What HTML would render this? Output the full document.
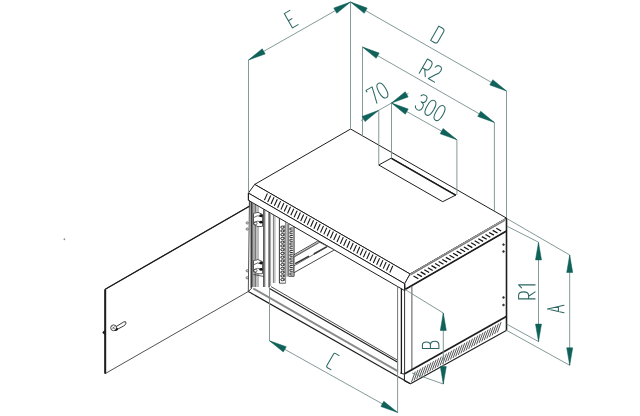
<!DOCTYPE html>
<html><head><meta charset="utf-8"><style>
html,body{margin:0;padding:0;background:#fff;}
svg{display:block;}
</style></head><body>
<svg width="640" height="416" viewBox="0 0 640 416">
<rect width="640" height="416" fill="#fff"/>
<polygon points="249.40,206.20 105.20,289.30 105.20,373.60 248.30,291.50" fill="#fff" stroke="#333" stroke-width="0.85" />
<line x1="249.40" y1="206.20" x2="105.20" y2="289.30" stroke="#1a1a1a" stroke-width="1.3" />
<line x1="105.20" y1="289.30" x2="105.20" y2="373.60" stroke="#1e1e1e" stroke-width="2.0" />
<path d="M115.2,327.2 L123.6,322.0 Q126.2,320.8 126.0,323.2 Q125.6,325.0 123.4,326.1 L116.8,329.6" fill="#fff" stroke="#222" stroke-width="0.9"/>
<circle cx="113.60" cy="327.80" r="2.9" fill="#fff" stroke="#333" stroke-width="0.9"/>
<path d="M112.3,326.6 L114.9,329.2 M114.7,326.4 L112.6,329.0" stroke="#444" stroke-width="0.7"/>
<path d="M114.0,330.6 Q116.6,330.2 116.4,327.6 L118.0,328.6 Q118.2,331.0 115.2,331.0 Z" fill="#111"/>
<polygon points="102.3,332.5 104.6,329.9 104.6,335.1" fill="#111"/>
<circle cx="64.40" cy="239.20" r="0.7" fill="#888" stroke="#888" stroke-width="0.4"/>
<circle cx="247.20" cy="222.90" r="1.1" fill="none" stroke="#444" stroke-width="0.7"/>
<circle cx="247.20" cy="229.10" r="1.1" fill="none" stroke="#444" stroke-width="0.7"/>
<circle cx="247.20" cy="270.80" r="1.1" fill="none" stroke="#444" stroke-width="0.7"/>
<circle cx="247.20" cy="277.80" r="1.1" fill="none" stroke="#444" stroke-width="0.7"/>
<polygon points="350.60,129.00 254.70,184.40 410.10,274.00 506.50,218.10" fill="#fff" stroke="#1e1e1e" stroke-width="1.0" />
<polygon points="378.75,165.00 391.40,158.10 455.90,195.00 442.70,201.70" fill="#fff" stroke="#1e1e1e" stroke-width="1.0" />
<line x1="391.40" y1="158.40" x2="455.90" y2="195.30" stroke="#1a1a1a" stroke-width="1.45" />
<polygon points="254.70,184.40 248.40,193.10 404.65,283.70 410.10,274.00" fill="#fff" stroke="#1e1e1e" stroke-width="1.0" />
<line x1="264.40" y1="200.13" x2="267.40" y2="193.53" stroke="#151515" stroke-width="1.1" />
<line x1="267.70" y1="202.03" x2="270.70" y2="195.43" stroke="#151515" stroke-width="1.1" />
<line x1="271.00" y1="203.93" x2="274.00" y2="197.33" stroke="#151515" stroke-width="1.1" />
<line x1="274.30" y1="205.83" x2="277.30" y2="199.23" stroke="#151515" stroke-width="1.1" />
<line x1="277.60" y1="207.74" x2="280.60" y2="201.14" stroke="#151515" stroke-width="1.1" />
<line x1="280.90" y1="209.64" x2="283.90" y2="203.04" stroke="#151515" stroke-width="1.1" />
<line x1="284.20" y1="211.54" x2="287.20" y2="204.94" stroke="#151515" stroke-width="1.1" />
<line x1="287.50" y1="213.45" x2="290.50" y2="206.85" stroke="#151515" stroke-width="1.1" />
<line x1="290.80" y1="215.35" x2="293.80" y2="208.75" stroke="#151515" stroke-width="1.1" />
<line x1="294.10" y1="217.25" x2="297.10" y2="210.65" stroke="#151515" stroke-width="1.1" />
<line x1="297.40" y1="219.15" x2="300.40" y2="212.55" stroke="#151515" stroke-width="1.1" />
<line x1="300.70" y1="221.06" x2="303.70" y2="214.46" stroke="#151515" stroke-width="1.1" />
<line x1="304.00" y1="222.96" x2="307.00" y2="216.36" stroke="#151515" stroke-width="1.1" />
<line x1="307.30" y1="224.86" x2="310.30" y2="218.26" stroke="#151515" stroke-width="1.1" />
<line x1="310.60" y1="226.76" x2="313.60" y2="220.16" stroke="#151515" stroke-width="1.1" />
<line x1="313.90" y1="228.67" x2="316.90" y2="222.07" stroke="#151515" stroke-width="1.1" />
<line x1="317.20" y1="230.57" x2="320.20" y2="223.97" stroke="#151515" stroke-width="1.1" />
<line x1="320.50" y1="232.47" x2="323.50" y2="225.87" stroke="#151515" stroke-width="1.1" />
<line x1="323.80" y1="234.38" x2="326.80" y2="227.78" stroke="#151515" stroke-width="1.1" />
<line x1="327.10" y1="236.28" x2="330.10" y2="229.68" stroke="#151515" stroke-width="1.1" />
<line x1="330.40" y1="238.18" x2="333.40" y2="231.58" stroke="#151515" stroke-width="1.1" />
<line x1="333.70" y1="240.08" x2="336.70" y2="233.48" stroke="#151515" stroke-width="1.1" />
<line x1="337.00" y1="241.99" x2="340.00" y2="235.39" stroke="#151515" stroke-width="1.1" />
<line x1="340.30" y1="243.89" x2="343.30" y2="237.29" stroke="#151515" stroke-width="1.1" />
<line x1="343.60" y1="245.79" x2="346.60" y2="239.19" stroke="#151515" stroke-width="1.1" />
<line x1="346.90" y1="247.70" x2="349.90" y2="241.10" stroke="#151515" stroke-width="1.1" />
<line x1="350.20" y1="249.60" x2="353.20" y2="243.00" stroke="#151515" stroke-width="1.1" />
<line x1="353.50" y1="251.50" x2="356.50" y2="244.90" stroke="#151515" stroke-width="1.1" />
<line x1="356.80" y1="253.40" x2="359.80" y2="246.80" stroke="#151515" stroke-width="1.1" />
<line x1="360.10" y1="255.31" x2="363.10" y2="248.71" stroke="#151515" stroke-width="1.1" />
<line x1="363.40" y1="257.21" x2="366.40" y2="250.61" stroke="#151515" stroke-width="1.1" />
<line x1="366.70" y1="259.11" x2="369.70" y2="252.51" stroke="#151515" stroke-width="1.1" />
<line x1="370.00" y1="261.01" x2="373.00" y2="254.41" stroke="#151515" stroke-width="1.1" />
<line x1="373.30" y1="262.92" x2="376.30" y2="256.32" stroke="#151515" stroke-width="1.1" />
<line x1="376.60" y1="264.82" x2="379.60" y2="258.22" stroke="#151515" stroke-width="1.1" />
<line x1="379.90" y1="266.72" x2="382.90" y2="260.12" stroke="#151515" stroke-width="1.1" />
<line x1="383.20" y1="268.63" x2="386.20" y2="262.03" stroke="#151515" stroke-width="1.1" />
<line x1="386.50" y1="270.53" x2="389.50" y2="263.93" stroke="#151515" stroke-width="1.1" />
<line x1="389.80" y1="272.43" x2="392.80" y2="265.83" stroke="#151515" stroke-width="1.1" />
<polygon points="410.10,274.00 404.65,283.70 405.00,289.50 506.50,231.00 506.50,218.10" fill="#fff" stroke="#1e1e1e" stroke-width="0.9" />
<line x1="405.00" y1="289.50" x2="506.50" y2="231.00" stroke="#1e1e1e" stroke-width="1.6" />
<line x1="410.10" y1="274.70" x2="505.00" y2="219.60" stroke="#a8a8a8" stroke-width="1.8" />
<line x1="411.00" y1="275.28" x2="412.00" y2="273.38" stroke="#555" stroke-width="0.55" />
<line x1="412.25" y1="274.56" x2="413.25" y2="272.66" stroke="#555" stroke-width="0.55" />
<line x1="413.50" y1="273.84" x2="414.50" y2="271.94" stroke="#555" stroke-width="0.55" />
<line x1="414.75" y1="273.12" x2="415.75" y2="271.22" stroke="#555" stroke-width="0.55" />
<line x1="416.00" y1="272.40" x2="417.00" y2="270.50" stroke="#555" stroke-width="0.55" />
<line x1="417.25" y1="271.68" x2="418.25" y2="269.78" stroke="#555" stroke-width="0.55" />
<line x1="418.50" y1="270.96" x2="419.50" y2="269.06" stroke="#555" stroke-width="0.55" />
<line x1="419.75" y1="270.24" x2="420.75" y2="268.34" stroke="#555" stroke-width="0.55" />
<line x1="421.00" y1="269.52" x2="422.00" y2="267.62" stroke="#555" stroke-width="0.55" />
<line x1="422.25" y1="268.79" x2="423.25" y2="266.89" stroke="#555" stroke-width="0.55" />
<line x1="423.50" y1="268.07" x2="424.50" y2="266.17" stroke="#555" stroke-width="0.55" />
<line x1="424.75" y1="267.35" x2="425.75" y2="265.45" stroke="#555" stroke-width="0.55" />
<line x1="426.00" y1="266.63" x2="427.00" y2="264.73" stroke="#555" stroke-width="0.55" />
<line x1="427.25" y1="265.91" x2="428.25" y2="264.01" stroke="#555" stroke-width="0.55" />
<line x1="428.50" y1="265.19" x2="429.50" y2="263.29" stroke="#555" stroke-width="0.55" />
<line x1="429.75" y1="264.47" x2="430.75" y2="262.57" stroke="#555" stroke-width="0.55" />
<line x1="431.00" y1="263.75" x2="432.00" y2="261.85" stroke="#555" stroke-width="0.55" />
<line x1="432.25" y1="263.03" x2="433.25" y2="261.13" stroke="#555" stroke-width="0.55" />
<line x1="433.50" y1="262.31" x2="434.50" y2="260.41" stroke="#555" stroke-width="0.55" />
<line x1="434.75" y1="261.59" x2="435.75" y2="259.69" stroke="#555" stroke-width="0.55" />
<line x1="436.00" y1="260.87" x2="437.00" y2="258.97" stroke="#555" stroke-width="0.55" />
<line x1="437.25" y1="260.15" x2="438.25" y2="258.25" stroke="#555" stroke-width="0.55" />
<line x1="438.50" y1="259.42" x2="439.50" y2="257.52" stroke="#555" stroke-width="0.55" />
<line x1="439.75" y1="258.70" x2="440.75" y2="256.80" stroke="#555" stroke-width="0.55" />
<line x1="441.00" y1="257.98" x2="442.00" y2="256.08" stroke="#555" stroke-width="0.55" />
<line x1="442.25" y1="257.26" x2="443.25" y2="255.36" stroke="#555" stroke-width="0.55" />
<line x1="443.50" y1="256.54" x2="444.50" y2="254.64" stroke="#555" stroke-width="0.55" />
<line x1="444.75" y1="255.82" x2="445.75" y2="253.92" stroke="#555" stroke-width="0.55" />
<line x1="446.00" y1="255.10" x2="447.00" y2="253.20" stroke="#555" stroke-width="0.55" />
<line x1="447.25" y1="254.38" x2="448.25" y2="252.48" stroke="#555" stroke-width="0.55" />
<line x1="448.50" y1="253.66" x2="449.50" y2="251.76" stroke="#555" stroke-width="0.55" />
<line x1="449.75" y1="252.94" x2="450.75" y2="251.04" stroke="#555" stroke-width="0.55" />
<line x1="451.00" y1="252.22" x2="452.00" y2="250.32" stroke="#555" stroke-width="0.55" />
<line x1="452.25" y1="251.50" x2="453.25" y2="249.60" stroke="#555" stroke-width="0.55" />
<line x1="453.50" y1="250.78" x2="454.50" y2="248.88" stroke="#555" stroke-width="0.55" />
<line x1="454.75" y1="250.05" x2="455.75" y2="248.15" stroke="#555" stroke-width="0.55" />
<line x1="456.00" y1="249.33" x2="457.00" y2="247.43" stroke="#555" stroke-width="0.55" />
<line x1="457.25" y1="248.61" x2="458.25" y2="246.71" stroke="#555" stroke-width="0.55" />
<line x1="458.50" y1="247.89" x2="459.50" y2="245.99" stroke="#555" stroke-width="0.55" />
<line x1="459.75" y1="247.17" x2="460.75" y2="245.27" stroke="#555" stroke-width="0.55" />
<line x1="461.00" y1="246.45" x2="462.00" y2="244.55" stroke="#555" stroke-width="0.55" />
<line x1="462.25" y1="245.73" x2="463.25" y2="243.83" stroke="#555" stroke-width="0.55" />
<line x1="463.50" y1="245.01" x2="464.50" y2="243.11" stroke="#555" stroke-width="0.55" />
<line x1="464.75" y1="244.29" x2="465.75" y2="242.39" stroke="#555" stroke-width="0.55" />
<line x1="466.00" y1="243.57" x2="467.00" y2="241.67" stroke="#555" stroke-width="0.55" />
<line x1="467.25" y1="242.85" x2="468.25" y2="240.95" stroke="#555" stroke-width="0.55" />
<line x1="468.50" y1="242.13" x2="469.50" y2="240.23" stroke="#555" stroke-width="0.55" />
<line x1="469.75" y1="241.41" x2="470.75" y2="239.51" stroke="#555" stroke-width="0.55" />
<line x1="471.00" y1="240.69" x2="472.00" y2="238.79" stroke="#555" stroke-width="0.55" />
<line x1="472.25" y1="239.96" x2="473.25" y2="238.06" stroke="#555" stroke-width="0.55" />
<line x1="473.50" y1="239.24" x2="474.50" y2="237.34" stroke="#555" stroke-width="0.55" />
<line x1="474.75" y1="238.52" x2="475.75" y2="236.62" stroke="#555" stroke-width="0.55" />
<line x1="476.00" y1="237.80" x2="477.00" y2="235.90" stroke="#555" stroke-width="0.55" />
<line x1="477.25" y1="237.08" x2="478.25" y2="235.18" stroke="#555" stroke-width="0.55" />
<line x1="478.50" y1="236.36" x2="479.50" y2="234.46" stroke="#555" stroke-width="0.55" />
<line x1="479.75" y1="235.64" x2="480.75" y2="233.74" stroke="#555" stroke-width="0.55" />
<line x1="481.00" y1="234.92" x2="482.00" y2="233.02" stroke="#555" stroke-width="0.55" />
<line x1="482.25" y1="234.20" x2="483.25" y2="232.30" stroke="#555" stroke-width="0.55" />
<line x1="483.50" y1="233.48" x2="484.50" y2="231.58" stroke="#555" stroke-width="0.55" />
<line x1="484.75" y1="232.76" x2="485.75" y2="230.86" stroke="#555" stroke-width="0.55" />
<line x1="486.00" y1="232.04" x2="487.00" y2="230.14" stroke="#555" stroke-width="0.55" />
<line x1="487.25" y1="231.32" x2="488.25" y2="229.42" stroke="#555" stroke-width="0.55" />
<line x1="488.50" y1="230.59" x2="489.50" y2="228.69" stroke="#555" stroke-width="0.55" />
<line x1="489.75" y1="229.87" x2="490.75" y2="227.97" stroke="#555" stroke-width="0.55" />
<line x1="491.00" y1="229.15" x2="492.00" y2="227.25" stroke="#555" stroke-width="0.55" />
<line x1="492.25" y1="228.43" x2="493.25" y2="226.53" stroke="#555" stroke-width="0.55" />
<line x1="493.50" y1="227.71" x2="494.50" y2="225.81" stroke="#555" stroke-width="0.55" />
<line x1="494.75" y1="226.99" x2="495.75" y2="225.09" stroke="#555" stroke-width="0.55" />
<line x1="496.00" y1="226.27" x2="497.00" y2="224.37" stroke="#555" stroke-width="0.55" />
<line x1="497.25" y1="225.55" x2="498.25" y2="223.65" stroke="#555" stroke-width="0.55" />
<line x1="498.50" y1="224.83" x2="499.50" y2="222.93" stroke="#555" stroke-width="0.55" />
<line x1="499.75" y1="224.11" x2="500.75" y2="222.21" stroke="#555" stroke-width="0.55" />
<line x1="501.00" y1="223.39" x2="502.00" y2="221.49" stroke="#555" stroke-width="0.55" />
<line x1="502.25" y1="222.67" x2="503.25" y2="220.77" stroke="#555" stroke-width="0.55" />
<line x1="503.50" y1="221.95" x2="504.50" y2="220.05" stroke="#555" stroke-width="0.55" />
<line x1="413.50" y1="276.04" x2="418.30" y2="278.74" stroke="#111" stroke-width="1.25" />
<line x1="417.10" y1="273.96" x2="421.90" y2="276.66" stroke="#111" stroke-width="1.25" />
<line x1="420.70" y1="271.89" x2="425.50" y2="274.59" stroke="#111" stroke-width="1.25" />
<line x1="424.30" y1="269.81" x2="429.10" y2="272.51" stroke="#111" stroke-width="1.25" />
<line x1="427.90" y1="267.74" x2="432.70" y2="270.44" stroke="#111" stroke-width="1.25" />
<line x1="431.50" y1="265.66" x2="436.30" y2="268.36" stroke="#111" stroke-width="1.25" />
<line x1="435.10" y1="263.58" x2="439.90" y2="266.28" stroke="#111" stroke-width="1.25" />
<line x1="438.70" y1="261.51" x2="443.50" y2="264.21" stroke="#111" stroke-width="1.25" />
<line x1="442.30" y1="259.43" x2="447.10" y2="262.13" stroke="#111" stroke-width="1.25" />
<line x1="445.90" y1="257.36" x2="450.70" y2="260.06" stroke="#111" stroke-width="1.25" />
<line x1="449.50" y1="255.28" x2="454.30" y2="257.98" stroke="#111" stroke-width="1.25" />
<line x1="453.10" y1="253.21" x2="457.90" y2="255.91" stroke="#111" stroke-width="1.25" />
<line x1="456.70" y1="251.13" x2="461.50" y2="253.83" stroke="#111" stroke-width="1.25" />
<line x1="460.30" y1="249.05" x2="465.10" y2="251.75" stroke="#111" stroke-width="1.25" />
<line x1="463.90" y1="246.98" x2="468.70" y2="249.68" stroke="#111" stroke-width="1.25" />
<line x1="467.50" y1="244.90" x2="472.30" y2="247.60" stroke="#111" stroke-width="1.25" />
<line x1="471.10" y1="242.83" x2="475.90" y2="245.53" stroke="#111" stroke-width="1.25" />
<line x1="474.70" y1="240.75" x2="479.50" y2="243.45" stroke="#111" stroke-width="1.25" />
<line x1="478.30" y1="238.68" x2="483.10" y2="241.38" stroke="#111" stroke-width="1.25" />
<line x1="481.90" y1="236.60" x2="486.70" y2="239.30" stroke="#111" stroke-width="1.25" />
<line x1="485.50" y1="234.52" x2="490.30" y2="237.22" stroke="#111" stroke-width="1.25" />
<line x1="489.10" y1="232.45" x2="493.90" y2="235.15" stroke="#111" stroke-width="1.25" />
<line x1="492.70" y1="230.37" x2="497.50" y2="233.07" stroke="#111" stroke-width="1.25" />
<line x1="496.30" y1="228.30" x2="501.10" y2="231.00" stroke="#111" stroke-width="1.25" />
<polygon points="248.40,193.10 404.65,283.70 404.65,290.60 248.40,200.30" fill="#fff" stroke="#1e1e1e" stroke-width="1.0" />
<line x1="404.65" y1="283.70" x2="404.65" y2="290.60" stroke="#1e1e1e" stroke-width="1.0" />
<polygon points="251.2,201.91 253.1,203.01 253.1,287 251.2,287" fill="#8a8a8a"/>
<line x1="251.20" y1="201.91" x2="251.20" y2="288.00" stroke="#333" stroke-width="0.8" />
<line x1="253.10" y1="203.01" x2="253.10" y2="287.00" stroke="#444" stroke-width="0.7" />
<line x1="255.10" y1="204.16" x2="255.10" y2="287.00" stroke="#222" stroke-width="1.0" />
<line x1="256.20" y1="204.80" x2="256.20" y2="287.00" stroke="#666" stroke-width="0.6" />
<line x1="258.00" y1="205.84" x2="258.00" y2="287.00" stroke="#555" stroke-width="0.8" />
<line x1="263.90" y1="209.24" x2="263.90" y2="287.00" stroke="#1a1a1a" stroke-width="1.2" />
<line x1="265.00" y1="209.87" x2="265.00" y2="287.00" stroke="#666" stroke-width="0.6" />
<line x1="269.10" y1="212.24" x2="269.10" y2="287.50" stroke="#1a1a1a" stroke-width="1.1" />
<line x1="270.60" y1="213.10" x2="270.60" y2="286.00" stroke="#777" stroke-width="0.7" />
<line x1="273.40" y1="214.72" x2="273.40" y2="283.00" stroke="#555" stroke-width="0.8" />
<line x1="274.90" y1="215.58" x2="274.90" y2="283.00" stroke="#777" stroke-width="0.7" />
<line x1="248.40" y1="193.10" x2="248.40" y2="200.30" stroke="#1e1e1e" stroke-width="1.0" />
<line x1="249.40" y1="200.30" x2="249.40" y2="206.30" stroke="#1e1e1e" stroke-width="0.9" />
<path d="M253.5,213.4 Q258,210.9 262.5,214.4 V226.4 Q258,227.9 253.5,224.4 Z" fill="#fff" stroke="#333" stroke-width="0.8"/>
<path d="M254,217.4 Q257,214.4 262,216.9 M254,222.4 Q257,219.9 262,222.4" fill="none" stroke="#444" stroke-width="0.8"/>
<ellipse cx="261" cy="215.70000000000002" rx="1.7" ry="1.4" fill="#111"/>
<ellipse cx="261" cy="222.20000000000002" rx="1.7" ry="1.4" fill="#111"/>
<ellipse cx="255.5" cy="223.4" rx="1.6" ry="1.3" fill="none" stroke="#333" stroke-width="0.7"/>
<path d="M253.5,260.6 Q258,258.1 262.5,261.6 V273.6 Q258,275.1 253.5,271.6 Z" fill="#fff" stroke="#333" stroke-width="0.8"/>
<path d="M254,264.6 Q257,261.6 262,264.1 M254,269.6 Q257,267.1 262,269.6" fill="none" stroke="#444" stroke-width="0.8"/>
<ellipse cx="261" cy="262.90000000000003" rx="1.7" ry="1.4" fill="#111"/>
<ellipse cx="261" cy="269.40000000000003" rx="1.7" ry="1.4" fill="#111"/>
<ellipse cx="255.5" cy="270.6" rx="1.6" ry="1.3" fill="none" stroke="#333" stroke-width="0.7"/>
<line x1="253.50" y1="274.50" x2="263.90" y2="276.50" stroke="#333" stroke-width="0.8" />
<line x1="279.40" y1="218.17" x2="279.40" y2="283.20" stroke="#222" stroke-width="0.9" />
<line x1="285.60" y1="221.75" x2="285.60" y2="283.20" stroke="#555" stroke-width="0.7" />
<polygon points="286.4,222.21 288.8,223.59 288.8,276.4 286.4,276.4" fill="#a0a0a0"/>
<line x1="288.80" y1="223.59" x2="288.80" y2="276.40" stroke="#444" stroke-width="0.7" />
<line x1="294.00" y1="226.59" x2="294.00" y2="276.40" stroke="#222" stroke-width="1.0" />
<line x1="279.40" y1="283.20" x2="285.60" y2="283.20" stroke="#333" stroke-width="0.8" />
<line x1="288.80" y1="276.40" x2="294.00" y2="276.40" stroke="#333" stroke-width="0.8" />
<ellipse cx="282.4" cy="227.20" rx="1.6" ry="1.15" fill="#fff" stroke="#1a1a1a" stroke-width="0.95"/>
<line x1="284.20" y1="225.20" x2="284.20" y2="228.40" stroke="#222" stroke-width="0.8" />
<ellipse cx="282.4" cy="230.95" rx="1.6" ry="1.15" fill="#fff" stroke="#1a1a1a" stroke-width="0.95"/>
<line x1="284.20" y1="228.95" x2="284.20" y2="232.15" stroke="#222" stroke-width="0.8" />
<ellipse cx="282.4" cy="234.70" rx="1.6" ry="1.15" fill="#fff" stroke="#1a1a1a" stroke-width="0.95"/>
<line x1="284.20" y1="232.70" x2="284.20" y2="235.90" stroke="#222" stroke-width="0.8" />
<ellipse cx="282.4" cy="238.45" rx="1.6" ry="1.15" fill="#fff" stroke="#1a1a1a" stroke-width="0.95"/>
<line x1="284.20" y1="236.45" x2="284.20" y2="239.65" stroke="#222" stroke-width="0.8" />
<ellipse cx="282.4" cy="242.20" rx="1.6" ry="1.15" fill="#fff" stroke="#1a1a1a" stroke-width="0.95"/>
<line x1="284.20" y1="240.20" x2="284.20" y2="243.40" stroke="#222" stroke-width="0.8" />
<ellipse cx="282.4" cy="245.95" rx="1.6" ry="1.15" fill="#fff" stroke="#1a1a1a" stroke-width="0.95"/>
<line x1="284.20" y1="243.95" x2="284.20" y2="247.15" stroke="#222" stroke-width="0.8" />
<ellipse cx="282.4" cy="249.70" rx="1.6" ry="1.15" fill="#fff" stroke="#1a1a1a" stroke-width="0.95"/>
<line x1="284.20" y1="247.70" x2="284.20" y2="250.90" stroke="#222" stroke-width="0.8" />
<ellipse cx="282.4" cy="253.45" rx="1.6" ry="1.15" fill="#fff" stroke="#1a1a1a" stroke-width="0.95"/>
<line x1="284.20" y1="251.45" x2="284.20" y2="254.65" stroke="#222" stroke-width="0.8" />
<ellipse cx="282.4" cy="257.20" rx="1.6" ry="1.15" fill="#fff" stroke="#1a1a1a" stroke-width="0.95"/>
<line x1="284.20" y1="255.20" x2="284.20" y2="258.40" stroke="#222" stroke-width="0.8" />
<ellipse cx="282.4" cy="260.95" rx="1.6" ry="1.15" fill="#fff" stroke="#1a1a1a" stroke-width="0.95"/>
<line x1="284.20" y1="258.95" x2="284.20" y2="262.15" stroke="#222" stroke-width="0.8" />
<ellipse cx="282.4" cy="264.70" rx="1.6" ry="1.15" fill="#fff" stroke="#1a1a1a" stroke-width="0.95"/>
<line x1="284.20" y1="262.70" x2="284.20" y2="265.90" stroke="#222" stroke-width="0.8" />
<ellipse cx="282.4" cy="268.45" rx="1.6" ry="1.15" fill="#fff" stroke="#1a1a1a" stroke-width="0.95"/>
<line x1="284.20" y1="266.45" x2="284.20" y2="269.65" stroke="#222" stroke-width="0.8" />
<ellipse cx="282.4" cy="272.20" rx="1.6" ry="1.15" fill="#fff" stroke="#1a1a1a" stroke-width="0.95"/>
<line x1="284.20" y1="270.20" x2="284.20" y2="273.40" stroke="#222" stroke-width="0.8" />
<ellipse cx="282.4" cy="275.95" rx="1.6" ry="1.15" fill="#fff" stroke="#1a1a1a" stroke-width="0.95"/>
<line x1="284.20" y1="273.95" x2="284.20" y2="277.15" stroke="#222" stroke-width="0.8" />
<ellipse cx="282.4" cy="279.70" rx="1.6" ry="1.15" fill="#fff" stroke="#1a1a1a" stroke-width="0.95"/>
<line x1="284.20" y1="277.70" x2="284.20" y2="280.90" stroke="#222" stroke-width="0.8" />
<path d="M292.8,228.00 H290.2 Q289.6,229.00 290.2,230.00 H292.8" fill="none" stroke="#222" stroke-width="0.95"/>
<path d="M292.8,231.75 H290.2 Q289.6,232.75 290.2,233.75 H292.8" fill="none" stroke="#222" stroke-width="0.95"/>
<path d="M292.8,235.50 H290.2 Q289.6,236.50 290.2,237.50 H292.8" fill="none" stroke="#222" stroke-width="0.95"/>
<path d="M292.8,239.25 H290.2 Q289.6,240.25 290.2,241.25 H292.8" fill="none" stroke="#222" stroke-width="0.95"/>
<path d="M292.8,243.00 H290.2 Q289.6,244.00 290.2,245.00 H292.8" fill="none" stroke="#222" stroke-width="0.95"/>
<path d="M292.8,246.75 H290.2 Q289.6,247.75 290.2,248.75 H292.8" fill="none" stroke="#222" stroke-width="0.95"/>
<path d="M292.8,250.50 H290.2 Q289.6,251.50 290.2,252.50 H292.8" fill="none" stroke="#222" stroke-width="0.95"/>
<path d="M292.8,254.25 H290.2 Q289.6,255.25 290.2,256.25 H292.8" fill="none" stroke="#222" stroke-width="0.95"/>
<path d="M292.8,258.00 H290.2 Q289.6,259.00 290.2,260.00 H292.8" fill="none" stroke="#222" stroke-width="0.95"/>
<path d="M292.8,261.75 H290.2 Q289.6,262.75 290.2,263.75 H292.8" fill="none" stroke="#222" stroke-width="0.95"/>
<path d="M292.8,265.50 H290.2 Q289.6,266.50 290.2,267.50 H292.8" fill="none" stroke="#222" stroke-width="0.95"/>
<path d="M292.8,269.25 H290.2 Q289.6,270.25 290.2,271.25 H292.8" fill="none" stroke="#222" stroke-width="0.95"/>
<path d="M292.8,273.00 H290.2 Q289.6,274.00 290.2,275.00 H292.8" fill="none" stroke="#222" stroke-width="0.95"/>
<polygon points="294,254.8 317.6,241.2 333.9,249.60 333.9,250.2 294,272.7" fill="#fff" stroke="#333" stroke-width="0.9"/>
<line x1="295.00" y1="255.90" x2="318.00" y2="242.60" stroke="#a0a0a0" stroke-width="1.4" />
<line x1="294.00" y1="257.10" x2="319.50" y2="242.40" stroke="#444" stroke-width="0.8" />
<line x1="295.20" y1="263.60" x2="309.00" y2="256.20" stroke="#333" stroke-width="1.5" />
<line x1="313.80" y1="254.00" x2="327.00" y2="246.60" stroke="#333" stroke-width="1.5" />
<line x1="294.00" y1="265.80" x2="324.50" y2="248.20" stroke="#444" stroke-width="0.8" />
<line x1="397.60" y1="286.33" x2="397.60" y2="373.00" stroke="#777" stroke-width="1.0" />
<line x1="401.40" y1="288.52" x2="401.40" y2="373.00" stroke="#1a1a1a" stroke-width="1.3" />
<line x1="404.60" y1="289.60" x2="404.60" y2="374.20" stroke="#333" stroke-width="1.0" />
<line x1="411.90" y1="286.20" x2="411.90" y2="370.50" stroke="#555" stroke-width="1.0" />
<line x1="248.30" y1="291.50" x2="410.50" y2="383.80" stroke="#1e1e1e" stroke-width="1.1" />
<line x1="253.20" y1="288.50" x2="397.70" y2="371.10" stroke="#8a8a8a" stroke-width="1.9" />
<line x1="269.10" y1="288.20" x2="397.70" y2="362.30" stroke="#1e1e1e" stroke-width="1.2" />
<line x1="271.00" y1="286.60" x2="397.70" y2="360.30" stroke="#222" stroke-width="0.8" />
<line x1="248.30" y1="291.50" x2="251.90" y2="287.90" stroke="#1e1e1e" stroke-width="0.9" />
<line x1="251.20" y1="287.90" x2="251.20" y2="201.91" stroke="#222" stroke-width="0.9" />
<polyline points="400.10,373.00 404.40,374.20 404.40,381.00 410.50,383.80" fill="none" stroke="#1e1e1e" stroke-width="1.0" />
<line x1="506.50" y1="218.10" x2="506.50" y2="330.60" stroke="#1e1e1e" stroke-width="1.6" />
<line x1="404.70" y1="373.75" x2="506.30" y2="316.60" stroke="#1e1e1e" stroke-width="1.7" />
<line x1="410.50" y1="383.80" x2="506.30" y2="330.60" stroke="#1e1e1e" stroke-width="1.1" />
<line x1="411.50" y1="381.92" x2="415.30" y2="371.62" stroke="#2a2a2a" stroke-width="0.8" />
<line x1="414.10" y1="380.42" x2="417.90" y2="370.12" stroke="#2a2a2a" stroke-width="0.8" />
<line x1="416.70" y1="378.93" x2="420.50" y2="368.63" stroke="#2a2a2a" stroke-width="0.8" />
<line x1="419.30" y1="377.43" x2="423.10" y2="367.13" stroke="#2a2a2a" stroke-width="0.8" />
<line x1="421.90" y1="375.93" x2="425.70" y2="365.63" stroke="#2a2a2a" stroke-width="0.8" />
<line x1="424.50" y1="374.43" x2="428.30" y2="364.13" stroke="#2a2a2a" stroke-width="0.8" />
<line x1="427.10" y1="372.93" x2="430.90" y2="362.63" stroke="#2a2a2a" stroke-width="0.8" />
<line x1="429.70" y1="371.43" x2="433.50" y2="361.13" stroke="#2a2a2a" stroke-width="0.8" />
<line x1="432.30" y1="369.93" x2="436.10" y2="359.63" stroke="#2a2a2a" stroke-width="0.8" />
<line x1="434.90" y1="368.43" x2="438.70" y2="358.13" stroke="#2a2a2a" stroke-width="0.8" />
<line x1="437.50" y1="366.93" x2="441.30" y2="356.63" stroke="#2a2a2a" stroke-width="0.8" />
<line x1="440.10" y1="365.43" x2="443.90" y2="355.13" stroke="#2a2a2a" stroke-width="0.8" />
<line x1="442.70" y1="363.93" x2="446.50" y2="353.63" stroke="#2a2a2a" stroke-width="0.8" />
<line x1="445.30" y1="362.43" x2="449.10" y2="352.13" stroke="#2a2a2a" stroke-width="0.8" />
<line x1="447.90" y1="360.94" x2="451.70" y2="350.64" stroke="#2a2a2a" stroke-width="0.8" />
<line x1="450.50" y1="359.44" x2="454.30" y2="349.14" stroke="#2a2a2a" stroke-width="0.8" />
<line x1="453.10" y1="357.94" x2="456.90" y2="347.64" stroke="#2a2a2a" stroke-width="0.8" />
<line x1="455.70" y1="356.44" x2="459.50" y2="346.14" stroke="#2a2a2a" stroke-width="0.8" />
<line x1="458.30" y1="354.94" x2="462.10" y2="344.64" stroke="#2a2a2a" stroke-width="0.8" />
<line x1="460.90" y1="353.44" x2="464.70" y2="343.14" stroke="#2a2a2a" stroke-width="0.8" />
<line x1="463.50" y1="351.94" x2="467.30" y2="341.64" stroke="#2a2a2a" stroke-width="0.8" />
<line x1="466.10" y1="350.44" x2="469.90" y2="340.14" stroke="#2a2a2a" stroke-width="0.8" />
<line x1="468.70" y1="348.94" x2="472.50" y2="338.64" stroke="#2a2a2a" stroke-width="0.8" />
<line x1="471.30" y1="347.44" x2="475.10" y2="337.14" stroke="#2a2a2a" stroke-width="0.8" />
<line x1="473.90" y1="345.94" x2="477.70" y2="335.64" stroke="#2a2a2a" stroke-width="0.8" />
<line x1="476.50" y1="344.44" x2="480.30" y2="334.14" stroke="#2a2a2a" stroke-width="0.8" />
<line x1="479.10" y1="342.95" x2="482.90" y2="332.65" stroke="#2a2a2a" stroke-width="0.8" />
<line x1="481.70" y1="341.45" x2="485.50" y2="331.15" stroke="#2a2a2a" stroke-width="0.8" />
<line x1="484.30" y1="339.95" x2="488.10" y2="329.65" stroke="#2a2a2a" stroke-width="0.8" />
<line x1="486.90" y1="338.45" x2="490.70" y2="328.15" stroke="#2a2a2a" stroke-width="0.8" />
<line x1="489.50" y1="336.95" x2="493.30" y2="326.65" stroke="#2a2a2a" stroke-width="0.8" />
<line x1="492.10" y1="335.45" x2="495.90" y2="325.15" stroke="#2a2a2a" stroke-width="0.8" />
<line x1="494.70" y1="333.95" x2="498.50" y2="323.65" stroke="#2a2a2a" stroke-width="0.8" />
<line x1="497.30" y1="332.45" x2="501.10" y2="322.15" stroke="#2a2a2a" stroke-width="0.8" />
<circle cx="503.50" cy="244.60" r="0.9" fill="#333" stroke="#333" stroke-width="0.7"/>
<circle cx="503.50" cy="251.50" r="0.9" fill="#333" stroke="#333" stroke-width="0.7"/>
<circle cx="503.50" cy="297.50" r="0.9" fill="#333" stroke="#333" stroke-width="0.7"/>
<circle cx="503.50" cy="305.00" r="0.9" fill="#333" stroke="#333" stroke-width="0.7"/>
<line x1="248.50" y1="60.00" x2="350.50" y2="2.00" stroke="#768e8c" stroke-width="0.9" />
<polygon points="248.50,60.00 265.20,53.96 262.23,48.74" fill="#0f6159" stroke="#0f6159" stroke-width="0.5" stroke-linejoin="round"/>
<polygon points="350.50,2.00 333.80,8.04 336.77,13.26" fill="#0f6159" stroke="#0f6159" stroke-width="0.5" stroke-linejoin="round"/>
<line x1="248.50" y1="60.00" x2="248.50" y2="193.00" stroke="#768e8c" stroke-width="0.9" />
<line x1="350.50" y1="2.00" x2="350.50" y2="129.00" stroke="#768e8c" stroke-width="0.9" />
<line x1="350.50" y1="2.00" x2="506.50" y2="91.00" stroke="#768e8c" stroke-width="0.9" />
<polygon points="350.50,2.00 364.21,13.28 367.19,8.07" fill="#0f6159" stroke="#0f6159" stroke-width="0.5" stroke-linejoin="round"/>
<polygon points="506.50,91.00 492.79,79.72 489.81,84.93" fill="#0f6159" stroke="#0f6159" stroke-width="0.5" stroke-linejoin="round"/>
<line x1="506.50" y1="91.00" x2="506.50" y2="218.00" stroke="#768e8c" stroke-width="0.9" />
<line x1="362.50" y1="47.00" x2="494.40" y2="122.50" stroke="#768e8c" stroke-width="0.9" />
<polygon points="362.50,47.00 376.20,58.30 379.18,53.09" fill="#0f6159" stroke="#0f6159" stroke-width="0.5" stroke-linejoin="round"/>
<polygon points="494.40,122.50 480.70,111.20 477.72,116.41" fill="#0f6159" stroke="#0f6159" stroke-width="0.5" stroke-linejoin="round"/>
<line x1="362.50" y1="47.00" x2="362.50" y2="136.00" stroke="#768e8c" stroke-width="0.9" />
<line x1="494.40" y1="122.50" x2="494.40" y2="211.00" stroke="#768e8c" stroke-width="0.9" />
<line x1="361.00" y1="120.50" x2="378.75" y2="110.30" stroke="#768e8c" stroke-width="0.9" />
<polygon points="378.75,110.30 362.08,116.42 365.07,121.62" fill="#0f6159" stroke="#0f6159" stroke-width="0.5" stroke-linejoin="round"/>
<line x1="391.50" y1="103.00" x2="408.50" y2="93.30" stroke="#768e8c" stroke-width="0.9" />
<polygon points="391.50,103.00 408.19,96.93 405.21,91.72" fill="#0f6159" stroke="#0f6159" stroke-width="0.5" stroke-linejoin="round"/>
<line x1="378.75" y1="110.30" x2="391.50" y2="103.00" stroke="#768e8c" stroke-width="0.9" />
<line x1="378.75" y1="110.30" x2="378.75" y2="165.00" stroke="#768e8c" stroke-width="0.9" />
<line x1="391.50" y1="103.00" x2="391.50" y2="158.00" stroke="#768e8c" stroke-width="0.9" />
<line x1="391.50" y1="103.00" x2="456.90" y2="139.75" stroke="#768e8c" stroke-width="0.9" />
<polygon points="391.50,103.00 405.29,114.19 408.23,108.96" fill="#0f6159" stroke="#0f6159" stroke-width="0.5" stroke-linejoin="round"/>
<polygon points="456.90,139.75 443.11,128.56 440.17,133.79" fill="#0f6159" stroke="#0f6159" stroke-width="0.5" stroke-linejoin="round"/>
<line x1="456.90" y1="139.75" x2="456.90" y2="195.00" stroke="#768e8c" stroke-width="0.9" />
<g transform="translate(292.5,27.9) rotate(-30)" fill="none" stroke="#2a6661" stroke-width="1.05" stroke-linecap="round" stroke-linejoin="round"><path d="M6.5,-16.5 H0 V0 H6.5 M0,-8.3 H4.2" transform="translate(0,0)"/></g>
<g transform="translate(430.6,40.4) rotate(30)" fill="none" stroke="#2a6661" stroke-width="1.05" stroke-linecap="round" stroke-linejoin="round"><path d="M0,0 V-16.5 H4.2 Q7,-16.5 7,-13.7 V-2.8 Q7,0 4.2,0 Z" transform="translate(0,0)"/></g>
<g transform="translate(419.2,73.3) rotate(30)" fill="none" stroke="#2a6661" stroke-width="1.05" stroke-linecap="round" stroke-linejoin="round"><path d="M0,0 V-16.5 H3.5 Q7,-16.5 7,-11.5 Q7,-6.5 3.5,-6.5 H0 M2.6,-6.5 L7,0" transform="translate(0,0)"/><path d="M0.3,-13.2 Q1,-16.5 3.7,-16.5 Q7,-16.5 7,-12.8 Q7,-10 4.5,-7.2 L0,0 H7.2" transform="translate(10.5,0)"/></g>
<g transform="translate(374.3,104.7) rotate(-30)" fill="none" stroke="#2a6661" stroke-width="1.05" stroke-linecap="round" stroke-linejoin="round"><path d="M0,-14.8 V-16.5 H7 L3,0" transform="translate(0,0)"/><path d="M3.6,-16.5 Q7.4,-16.5 7.4,-8.25 Q7.4,0 3.6,0 Q-0.2,0 -0.2,-8.25 Q-0.2,-16.5 3.6,-16.5 Z" transform="translate(10.5,0)"/></g>
<g transform="translate(414.1,107.9) rotate(30)" fill="none" stroke="#2a6661" stroke-width="1.05" stroke-linecap="round" stroke-linejoin="round"><path d="M0,-14 Q1,-16.5 3.5,-16.5 Q6.8,-16.5 6.8,-12.6 Q6.8,-8.8 3,-8.8 Q7.2,-8.8 7.2,-4.3 Q7.2,0 3.5,0 Q1,0 0,-2.5" transform="translate(0,0)"/><path d="M3.6,-16.5 Q7.4,-16.5 7.4,-8.25 Q7.4,0 3.6,0 Q-0.2,0 -0.2,-8.25 Q-0.2,-16.5 3.6,-16.5 Z" transform="translate(10.5,0)"/><path d="M3.6,-16.5 Q7.4,-16.5 7.4,-8.25 Q7.4,0 3.6,0 Q-0.2,0 -0.2,-8.25 Q-0.2,-16.5 3.6,-16.5 Z" transform="translate(21.0,0)"/></g>
<line x1="507.20" y1="218.75" x2="569.70" y2="255.00" stroke="#768e8c" stroke-width="0.9" />
<line x1="506.50" y1="330.30" x2="569.70" y2="365.30" stroke="#768e8c" stroke-width="0.9" />
<line x1="569.70" y1="255.00" x2="569.70" y2="365.30" stroke="#768e8c" stroke-width="0.9" />
<polygon points="569.70,255.00 566.70,272.50 572.70,272.50" fill="#0f6159" stroke="#0f6159" stroke-width="0.5" stroke-linejoin="round"/>
<polygon points="569.70,365.30 572.70,347.80 566.70,347.80" fill="#0f6159" stroke="#0f6159" stroke-width="0.5" stroke-linejoin="round"/>
<line x1="507.20" y1="226.30" x2="538.50" y2="242.20" stroke="#768e8c" stroke-width="0.9" />
<line x1="506.50" y1="324.00" x2="538.50" y2="341.60" stroke="#768e8c" stroke-width="0.9" />
<line x1="538.50" y1="242.40" x2="538.50" y2="341.60" stroke="#768e8c" stroke-width="0.9" />
<polygon points="538.50,242.40 535.50,259.90 541.50,259.90" fill="#0f6159" stroke="#0f6159" stroke-width="0.5" stroke-linejoin="round"/>
<polygon points="538.50,341.60 541.50,324.10 535.50,324.10" fill="#0f6159" stroke="#0f6159" stroke-width="0.5" stroke-linejoin="round"/>
<g transform="translate(564,312.8) rotate(-90)" fill="none" stroke="#2a6661" stroke-width="1.05" stroke-linecap="round" stroke-linejoin="round"><path d="M0,0 L3.8,-16.5 L7.6,0 M1.3,-5.6 H6.3" transform="translate(0,0)"/></g>
<g transform="translate(535.1,298.9) rotate(-90)" fill="none" stroke="#2a6661" stroke-width="1.05" stroke-linecap="round" stroke-linejoin="round"><path d="M0,0 V-16.5 H3.5 Q7,-16.5 7,-11.5 Q7,-6.5 3.5,-6.5 H0 M2.6,-6.5 L7,0" transform="translate(0,0)"/><path d="M0.5,-13.5 L3.5,-16.5 V0" transform="translate(10.5,0)"/></g>
<line x1="405.00" y1="289.50" x2="443.30" y2="313.00" stroke="#768e8c" stroke-width="0.9" />
<line x1="412.00" y1="373.00" x2="443.30" y2="384.00" stroke="#768e8c" stroke-width="0.9" />
<line x1="443.30" y1="313.00" x2="443.30" y2="384.00" stroke="#768e8c" stroke-width="0.9" />
<polygon points="443.30,313.00 440.30,330.50 446.30,330.50" fill="#0f6159" stroke="#0f6159" stroke-width="0.5" stroke-linejoin="round"/>
<polygon points="443.30,384.00 446.30,366.50 440.30,366.50" fill="#0f6159" stroke="#0f6159" stroke-width="0.5" stroke-linejoin="round"/>
<g transform="translate(438.9,348.5) rotate(-90)" fill="none" stroke="#2a6661" stroke-width="1.05" stroke-linecap="round" stroke-linejoin="round"><path d="M0,0 V-16.5 H3.4 Q6.6,-16.5 6.6,-12.5 Q6.6,-8.5 3.4,-8.5 H0 M3.4,-8.5 Q7.2,-8.5 7.2,-4.25 Q7.2,0 3.4,0 H0" transform="translate(0,0)"/></g>
<line x1="269.50" y1="288.00" x2="269.50" y2="340.80" stroke="#768e8c" stroke-width="0.9" />
<line x1="397.60" y1="360.00" x2="397.60" y2="412.40" stroke="#768e8c" stroke-width="0.9" />
<line x1="269.50" y1="340.80" x2="397.60" y2="412.40" stroke="#768e8c" stroke-width="0.9" />
<polygon points="269.50,340.80 283.31,351.96 286.24,346.72" fill="#0f6159" stroke="#0f6159" stroke-width="0.5" stroke-linejoin="round"/>
<polygon points="397.60,412.40 383.79,401.24 380.86,406.48" fill="#0f6159" stroke="#0f6159" stroke-width="0.5" stroke-linejoin="round"/>
<g transform="translate(326.1,366.9) rotate(30)" fill="none" stroke="#2a6661" stroke-width="1.05" stroke-linecap="round" stroke-linejoin="round"><path d="M5.6,-16.3 H1.6 Q0,-16.3 0,-14.7 V-1.6 Q0,0 1.6,0 H5.5" transform="translate(0,0)"/></g>
</svg></body></html>
